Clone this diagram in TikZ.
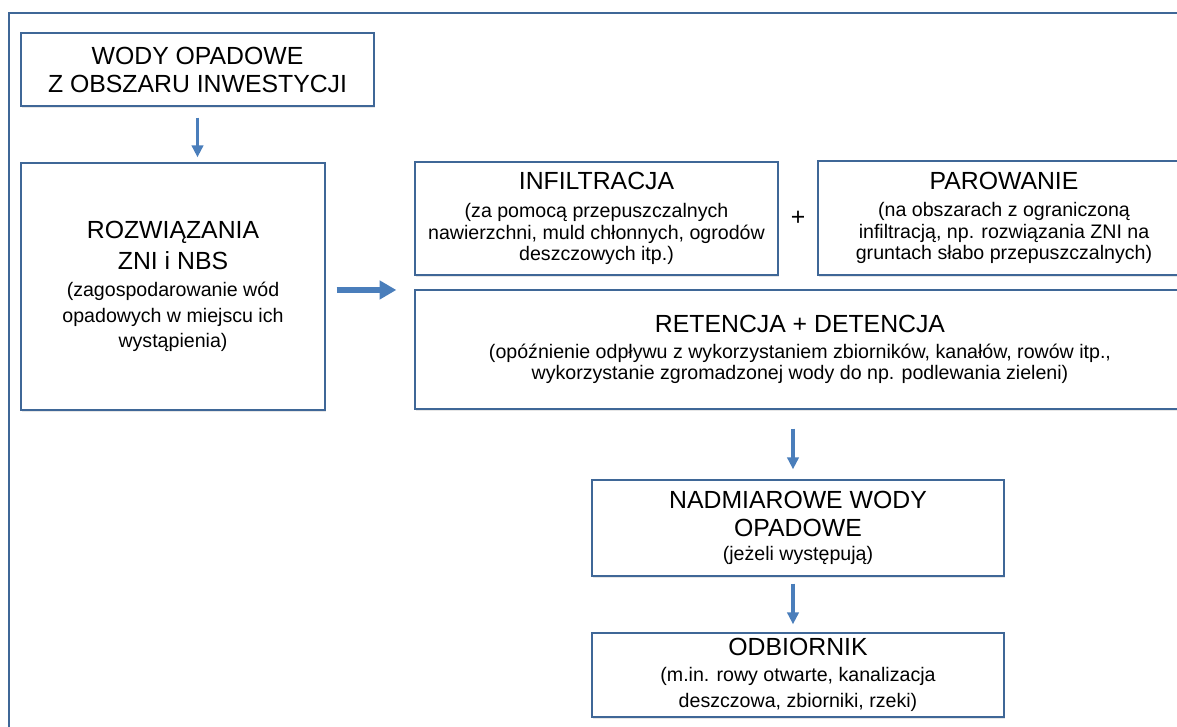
\documentclass[tikz,border=0pt]{standalone}
\usepackage{fontspec}
\setmainfont{Liberation Sans}
\usetikzlibrary{arrows.meta,shadows}

\definecolor{boxline}{HTML}{3F6797}
\definecolor{arrowblue}{HTML}{4A7EBB}
\newcommand\boxtitle{\fontsize{18.6}{21}\selectfont}
\newcommand\boxnote{\fontsize{14.7}{16}\selectfont}

\tikzset{
  box/.style={draw=boxline, line width=1pt, fill=white, align=center, inner sep=0pt,
    font=\boxnote, drop shadow={opacity=0.2, shadow xshift=0.6pt, shadow yshift=-1.2pt}},
  flow/.style={arrowblue, line width=2.6pt, -{Triangle[width=8.5pt,length=9pt]}},
  bigflow/.style={arrowblue, line width=4.5pt, -{Triangle[width=13.5pt,length=12.5pt]}},
}

\begin{document}
\begin{tikzpicture}[x=0.75pt, y=-0.75pt]
\useasboundingbox (0,0) rectangle (1177,727);
\clip (0,0) rectangle (1177,727);
\draw [boxline, line width=1pt] (9,13) rectangle (1260,800);

\node (Wody) at (197.5,69.5) [box, minimum width=264.75pt, minimum height=54.75pt]
  {\boxtitle WODY OPADOWE\\[5pt] \boxtitle Z OBSZARU INWESTYCJI};
\node (Rozw) at (173,286.5) [box, minimum width=228pt, minimum height=185.25pt]
  {\boxtitle ROZWIĄZANIA\\[5pt] \boxtitle ZNI i NBS\\[4.5pt]
   (zagospodarowanie wód\\[3pt] opadowych w miejscu ich\\[3pt] wystąpienia)};
\node (Infil) at (596.5,218.5) [box, minimum width=272.25pt, minimum height=84.75pt]
  {\boxtitle INFILTRACJA\\[5pt] (za pomocą przepuszczalnych\\ nawierzchni, muld chłonnych, ogrodów\\ deszczowych itp.)};
\node (Plus) at (798,218) {\boxtitle +};
\node (Parow) at (1004,218) [box, minimum width=279pt, minimum height=85.5pt]
  {\boxtitle PAROWANIE\\[4.5pt] (na obszarach z ograniczoną\\ infiltracją, np. rozwiązania ZNI na\\ gruntach słabo przepuszczalnych)};
\node (Ret) at (800,349.5) [box, minimum width=577.5pt, minimum height=89.25pt]
  {\boxtitle RETENCJA + DETENCJA\\[3.5pt] (opóźnienie odpływu z wykorzystaniem zbiorników, kanałów, rowów itp.,\\ wykorzystanie zgromadzonej wody do np. podlewania zieleni)};
\node (Nadm) at (798,528) [box, minimum width=309pt, minimum height=72pt]
  {\boxtitle NADMIAROWE WODY\\[5pt] \boxtitle OPADOWE\\[2.5pt] (jeżeli występują)};
\node (Odb) at (798,675) [box, minimum width=309pt, minimum height=63pt]
  {\boxtitle ODBIORNIK\\[3pt] (m.in. rowy otwarte, kanalizacja\\[3.5pt] deszczowa, zbiorniki, rzeki)};

\draw [flow, shorten <=8.25pt, shorten >=3.75pt] (Wody.south) -- (Wody.south |- Rozw.north);
\draw [bigflow, shorten <=8.25pt, shorten >=13.5pt] ([yshift=-2.6pt]Rozw.east) -- ([yshift=-2.6pt]Rozw.east -| Infil.west);
\draw [flow, shorten <=14.25pt, shorten >=7.5pt] ([xshift=-3.75pt]Nadm.north |- Ret.south) -- ([xshift=-3.75pt]Nadm.north);
\draw [flow, shorten <=5.25pt, shorten >=6pt] ([xshift=-3.75pt]Nadm.south) -- ([xshift=-3.75pt]Odb.north);
%\draw [flow] (Infil) -- (Parow);
\end{tikzpicture}
\end{document}
